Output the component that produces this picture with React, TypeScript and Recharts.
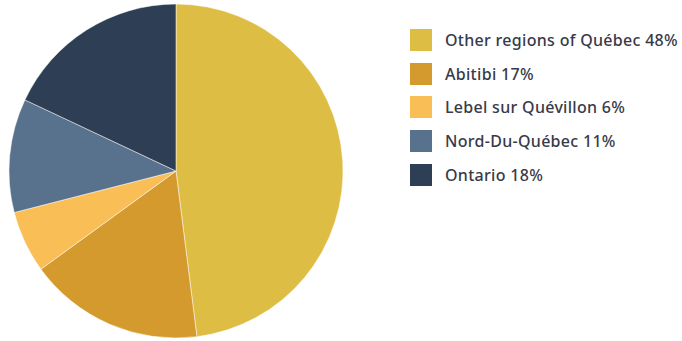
import { PieChart, Pie, Cell, Legend } from "recharts"

const regions = ["Other regions of Québec", "Abitibi", "Lebel sur Quévillon", "Nord-Du-Québec", "Ontario"]
const shares = [48, 17, 6, 11, 18]
const colors = ["#DEBD45", "#D49A2E", "#F9BE55", "#58718C", "#2E3F55"]

const data = regions.map((name, i) => ({ name, value: shares[i] }))

function RegionLegend() {
  return (
    <div>
      {data.map((d, i) => (
        <div key={d.name} style={{ display: "flex", alignItems: "center", height: 33.8 }}>
          <div style={{ width: 22, height: 22, background: colors[i], marginRight: 13 }} />
          <span
            style={{
              fontSize: 16,
              letterSpacing: 0.3,
              color: "#383a48",
              fontFamily: "'Noto Sans', sans-serif",
              fontWeight: 500,
            }}
          >
            {d.name} {d.value}%
          </span>
        </div>
      ))}
    </div>
  )
}

export default function App() {
  return (
    <div style={{ position: "absolute", left: 0, top: 0, background: "#fff" }}>
      <PieChart width={682} height={341} margin={{ top: 0, right: 0, bottom: 0, left: 0 }}>
        <Pie
          data={data}
          dataKey="value"
          nameKey="name"
          cx={176}
          cy={171}
          outerRadius={167}
          startAngle={90}
          endAngle={-270}
          stroke="#fff"
          strokeWidth={0.5}
          isAnimationActive={false}
        >
          {data.map((d, i) => (
            <Cell key={d.name} fill={colors[i]} />
          ))}
        </Pie>
        <Legend
          layout="vertical"
          content={() => <RegionLegend />}
          wrapperStyle={{ left: 410, top: 23, width: 272 }}
        />
      </PieChart>
    </div>
  )
}
